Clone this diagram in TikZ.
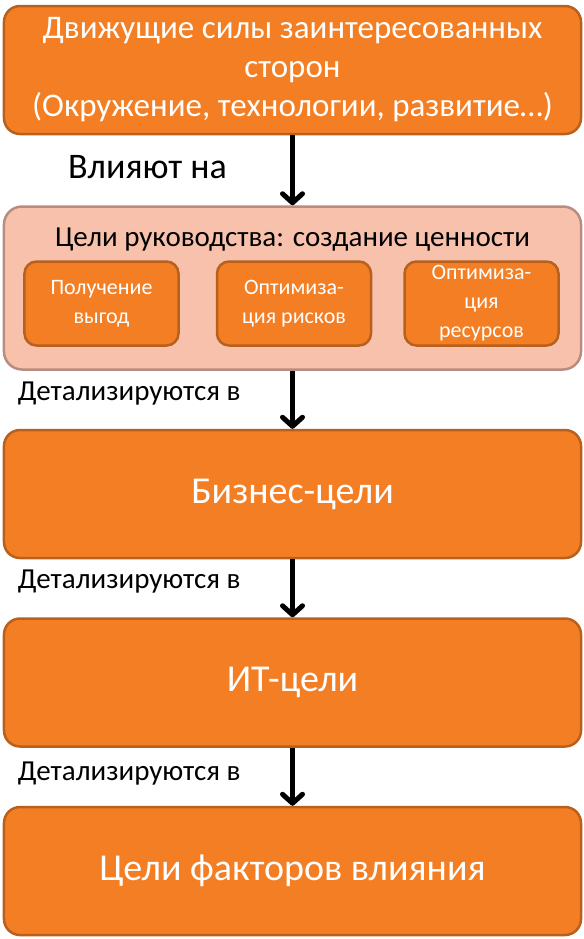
\documentclass[tikz,border=0pt]{standalone}
\usepackage{fontspec}
\setmainfont{Carlito}
\usetikzlibrary{arrows.meta,positioning}
\definecolor{goalorange}{RGB}{244,126,36}
\definecolor{goalborder}{RGB}{184,96,30}
\definecolor{valuefill}{RGB}{248,193,172}
\definecolor{valueborder}{RGB}{185,140,128}
\tikzstyle{goal}=[
	rectangle,
	rounded corners=16bp,
	line width=2.5bp,
	draw=goalborder,
	fill=goalorange,
	text=white,
	minimum width=577bp,
	minimum height=128bp,
	align=center,
	font=\fontsize{38bp}{44bp}\selectfont,
	node distance=58bp
]
\tikzstyle{value}=[
	rectangle,
	rounded corners=18bp,
	line width=2.5bp,
	draw=valueborder,
	fill=valuefill,
	minimum width=577bp,
	minimum height=163bp,
	node distance=70bp
]
\tikzstyle{subgoal}=[
	rectangle,
	rounded corners=12bp,
	line width=2.5bp,
	draw=goalborder,
	fill=goalorange,
	text=white,
	minimum width=154bp,
	minimum height=84bp,
	inner sep=1bp,
	align=center,
	font=\fontsize{22bp}{29bp}\selectfont
]
\tikzstyle{refines}=[
	<-,
	>={Straight Barb[round,length=9bp,width=20bp]},
	line width=5bp
]
\tikzstyle{remark}=[
	inner sep=0pt,
	font=\fontsize{29bp}{34bp}\selectfont
]

\begin{document}
\begin{tikzpicture}[x=1bp,y=-1bp]
\useasboundingbox (0,0) rectangle (584,939);
\node [goal, font=\fontsize{33bp}{39bp}\selectfont] (Drivers) at (292.5,70) {Движущие силы заинтересованных\\сторон\\(Окружение, технологии, развитие…)};
\node [value] (Governance)[below=of Drivers] {}
	edge [refines] (Drivers);
\node [inner sep=0pt, font=\fontsize{29bp}{34bp}\selectfont] (ValueTitle) at ([yshift=48bp]Governance.center) {Цели руководства: создание ценности};
\node [subgoal] (Risks) at ([xshift=1.5bp,yshift=-15.5bp]Governance.center) {Оптимиза-\\ция рисков};
\node [subgoal] (Benefits)[left=36bp of Risks] {Получение\\выгод};
\node [subgoal] (Resources)[right=31bp of Risks] {Оптимиза-\\ция\\ресурсов};
\node [goal] (Business)[below=of Governance] {Бизнес-цели}
	edge [refines] (Governance);
\node [goal] (ITGoals)[below=of Business] {ИТ-цели}
	edge [refines] (Business);
\node [goal] (Enablers)[below=of ITGoals] {Цели факторов влияния}
	edge [refines] (ITGoals);
\node [remark, font=\fontsize{36bp}{42bp}\selectfont] (InfluenceLabel) at ([xshift=-145bp,yshift=-32bp]Drivers.south) {Влияют на};
\node [remark, anchor=west] (DetailLabelA) at ([xshift=15bp,yshift=-23bp]Governance.south west) {Детализируются в};
\node [remark, anchor=west] (DetailLabelB) at ([xshift=15bp,yshift=-22bp]Business.south west) {Детализируются в};
\node [remark, anchor=west] (DetailLabelC) at ([xshift=15bp,yshift=-26bp]ITGoals.south west) {Детализируются в};
\end{tikzpicture}
\end{document}
